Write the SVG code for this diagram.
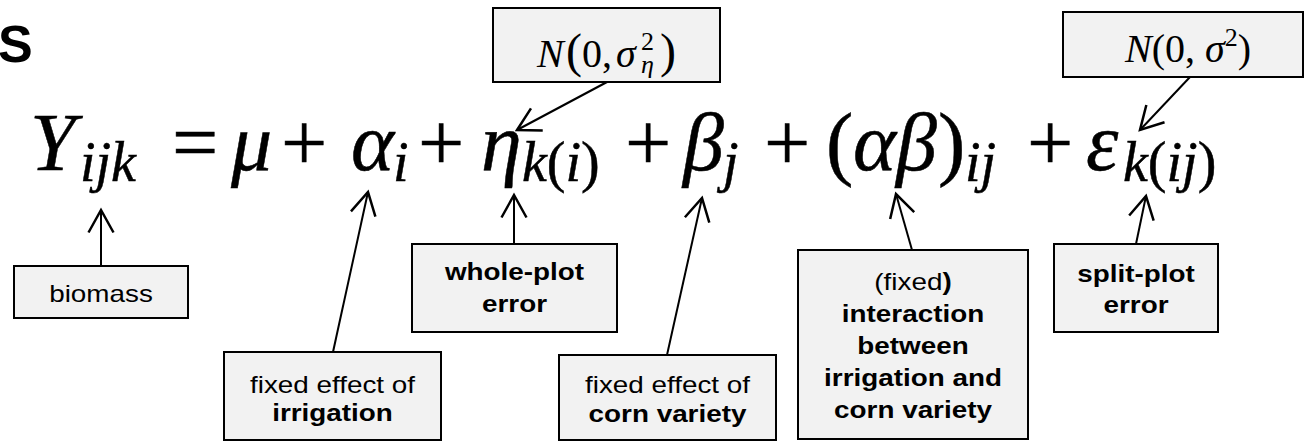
<svg xmlns="http://www.w3.org/2000/svg" width="1309" height="441" viewBox="0 0 1309 441">
<style>
.box{fill:#f2f2f2;stroke:#000;stroke-width:2}
.lbl{font-family:"Liberation Sans",Arial,sans-serif;font-size:24px;fill:#000}
.b{font-weight:bold}
.m{font-family:"Liberation Serif","Times New Roman",serif;font-style:italic;fill:#000}
.u{font-style:normal}
.eq{font-size:82px;stroke:#000;stroke-width:0.5}
.sub{font-size:56px}
.conn line{stroke:#000;stroke-width:2;fill:none;marker-end:url(#ah)}
</style>
<defs>
<marker id="ah" markerUnits="userSpaceOnUse" markerWidth="30" markerHeight="30" viewBox="-20 -12 24 24" refX="0" refY="0" orient="auto">
<path d="M-18,-10 L0,0 L-18,10" fill="none" stroke="#000" stroke-width="2"/>
</marker>
</defs>
<rect width="1309" height="441" fill="#fff"/>
<text x="-2" y="62" font-family="Liberation Sans,Arial,sans-serif" font-weight="bold" font-size="52">S</text>

<g id="equation" class="m eq">
<text y="170"><tspan x="30">Y</tspan><tspan class="sub" x="80" dy="11">ijk</tspan><tspan class="u" x="172" dy="-11">=</tspan><tspan x="231">μ</tspan><tspan class="u" x="281">+</tspan><tspan x="351">α</tspan><tspan class="sub" x="393" dy="11">i</tspan><tspan class="u" x="418" dy="-11">+</tspan><tspan x="481">η</tspan><tspan class="sub" x="522" dy="11">k</tspan><tspan class="sub u">(</tspan><tspan class="sub">i</tspan><tspan class="sub u">)</tspan><tspan class="u" x="625" dy="-11">+</tspan><tspan x="683">β</tspan><tspan class="sub" x="723" dy="11">j</tspan><tspan class="u" x="764" dy="-11">+</tspan><tspan class="u" x="826">(</tspan><tspan x="853">αβ</tspan><tspan class="u" x="938">)</tspan><tspan class="sub" x="965" dy="11">ij</tspan><tspan class="u" x="1027" dy="-11">+</tspan><tspan x="1086">ε</tspan><tspan class="sub" x="1123" dy="11">k</tspan><tspan class="sub u">(</tspan><tspan class="sub">ij</tspan><tspan class="sub u">)</tspan></text>
</g>

<g id="node-var-eta">
<rect class="box" x="493" y="8" width="227" height="74"/>
<text class="m" font-size="40" y="67"><tspan x="537">N</tspan><tspan class="u" font-size="48" x="566">(</tspan><tspan class="u" x="582">0,</tspan><tspan x="616">σ</tspan><tspan class="u" font-size="26" x="641" y="50">2</tspan><tspan font-size="26" x="641" y="73">η</tspan><tspan class="u" font-size="48" x="660" y="67">)</tspan></text>
</g>

<g id="node-var-eps">
<rect class="box" x="1063" y="12" width="240" height="65"/>
<text class="m" font-size="40" x="1125" y="62">N<tspan class="u">(0, </tspan>σ<tspan class="u" font-size="26" dy="-16">2</tspan><tspan class="u" dy="16">)</tspan></text>
</g>

<g id="node-biomass">
<rect class="box" x="14" y="266" width="174" height="52"/>
<text class="lbl" text-anchor="middle" transform="translate(101,302) scale(1.16,1)">biomass</text>
</g>

<g id="node-irrigation">
<rect class="box" x="224" y="352" width="217" height="88"/>
<text class="lbl" text-anchor="middle" transform="translate(332.5,393) scale(1.16,1)"><tspan x="0" y="0">fixed effect of</tspan><tspan class="b" x="0" y="28">irrigation</tspan></text>
</g>

<g id="node-wholeplot">
<rect class="box" x="412" y="244" width="205" height="88"/>
<text class="lbl b" text-anchor="middle" transform="translate(514.5,280) scale(1.16,1)"><tspan x="0" y="0">whole-plot</tspan><tspan x="0" y="32">error</tspan></text>
</g>

<g id="node-corn">
<rect class="box" x="559" y="355" width="217" height="85"/>
<text class="lbl" text-anchor="middle" transform="translate(667.5,393) scale(1.16,1)"><tspan x="0" y="0">fixed effect of</tspan><tspan class="b" x="0" y="29">corn variety</tspan></text>
</g>

<g id="node-interaction">
<rect class="box" x="798" y="250" width="230" height="189"/>
<text class="lbl" text-anchor="middle" transform="translate(913,290) scale(1.16,1)"><tspan x="0" y="0">(fixed<tspan class="b">)</tspan></tspan><tspan class="b" x="0" y="32">interaction</tspan><tspan class="b" x="0" y="64">between</tspan><tspan class="b" x="0" y="96">irrigation and</tspan><tspan class="b" x="0" y="128">corn variety</tspan></text>
</g>

<g id="node-splitplot">
<rect class="box" x="1054" y="244" width="164" height="88"/>
<text class="lbl b" text-anchor="middle" transform="translate(1136,282) scale(1.16,1)"><tspan x="0" y="0">split-plot</tspan><tspan x="0" y="31">error</tspan></text>
</g>

<g id="connectors" class="conn">
<line x1="607" y1="82" x2="517" y2="130"/>
<line x1="1190" y1="77" x2="1140" y2="130"/>
<line x1="101" y1="266" x2="101" y2="210"/>
<line x1="333" y1="352" x2="368" y2="192"/>
<line x1="514" y1="244" x2="514" y2="195"/>
<line x1="667" y1="355" x2="702" y2="198"/>
<line x1="912" y1="250" x2="896" y2="194"/>
<line x1="1136" y1="244" x2="1146" y2="196"/>
</g>
</svg>
